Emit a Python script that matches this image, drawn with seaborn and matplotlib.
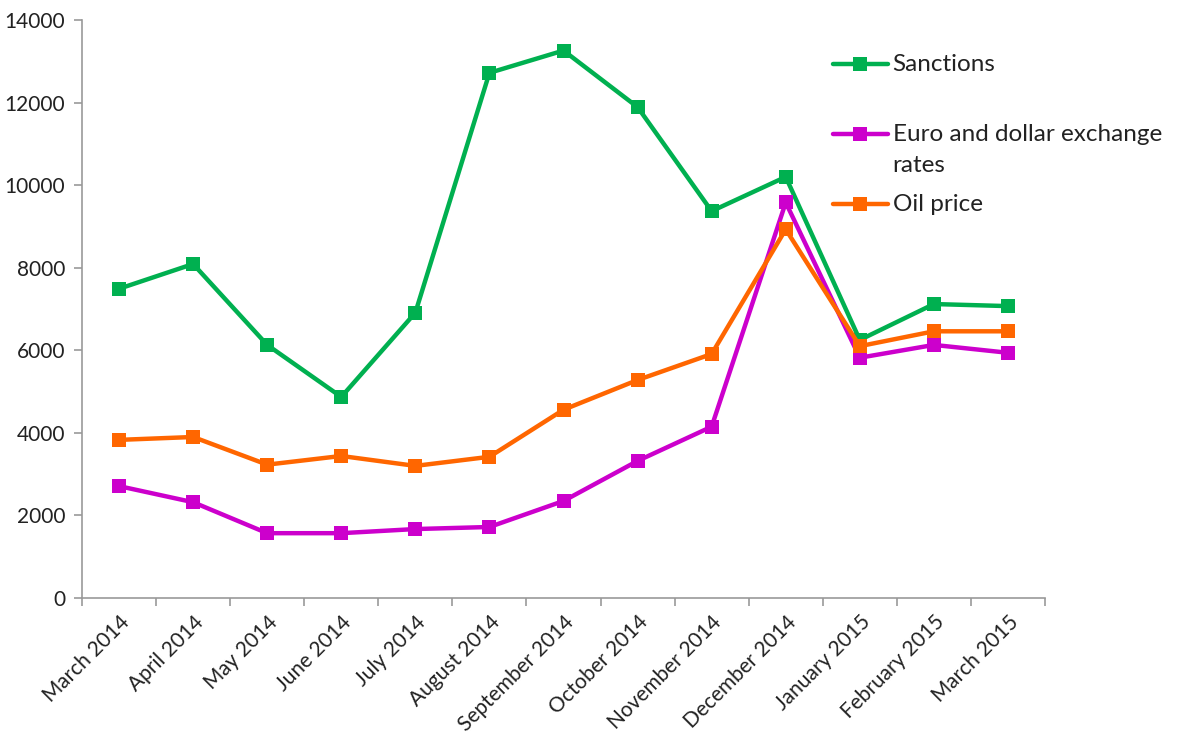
import matplotlib
matplotlib.use("Agg")
import matplotlib.pyplot as plt
import seaborn as sns
import pandas as pd
import numpy as np

months = ["March 2014", "April 2014", "May 2014", "June 2014", "July 2014",
          "August 2014", "September 2014", "October 2014", "November 2014",
          "December 2014", "January 2015", "February 2015", "March 2015"]
sanctions = [7490, 8090, 6130, 4870, 6910, 12720, 13260, 11890, 9370, 10200, 6250, 7120, 7070]
exchange = [2710, 2320, 1570, 1570, 1670, 1720, 2350, 3320, 4150, 9580, 5820, 6130, 5940]
oil = [3830, 3900, 3230, 3440, 3200, 3420, 4560, 5280, 5910, 8930, 6100, 6460, 6460]
series_names = ["Sanctions", "Euro and dollar exchange rates", "Oil price"]
legend_labels = ["Sanctions\n", "Euro and dollar exchange\nrates", "Oil price"]
colors = ["#00B050", "#CC00CC", "#FF6600"]
y_ticks = [0, 2000, 4000, 6000, 8000, 10000, 12000, 14000]

df = pd.DataFrame({"month": months * 3,
                   "x": list(range(len(months))) * 3,
                   "value": sanctions + exchange + oil,
                   "series": [series_names[0]] * 13 + [series_names[1]] * 13 + [series_names[2]] * 13})

sns.set_theme(style="white")
plt.rcParams["font.family"] = ["Lato", "DejaVu Sans"]

fig = plt.figure(figsize=(11.77, 7.35), dpi=100)
ax = fig.add_axes([82 / 1177, 1 - 598 / 735, (1045 - 82) / 1177, (598 - 20) / 735])

sns.lineplot(data=df, x="x", y="value", hue="series", hue_order=series_names,
             palette=colors, marker="s", markersize=10, markeredgewidth=0,
             linewidth=3.2, ax=ax, legend=True)

ax.set_xlim(-0.5, len(months) - 0.5)
ax.set_ylim(0, 14000)
ax.set_yticks(y_ticks)
ax.set_yticklabels([str(v) for v in y_ticks], fontsize=15, color="#222222")
ax.set_xticks(range(len(months)))
ax.set_xticklabels(months, rotation=45, ha="right", rotation_mode="anchor",
                   fontsize=15, color="#222222")
ax.set_xticks(np.arange(-0.5, len(months), 1.0), minor=True)
ax.tick_params(axis="x", which="major", length=0, pad=10)
ax.tick_params(axis="x", which="minor", length=6, width=1.2, color="#999999", direction="out")
ax.tick_params(axis="y", which="major", length=6, width=1.2, color="#999999", direction="out", pad=6)
ax.tick_params(axis="y", left=True)
ax.tick_params(axis="x", bottom=True, which="minor")
ax.set_xlabel("")
ax.set_ylabel("")
for s in ["top", "right"]:
    ax.spines[s].set_visible(False)
for s in ["left", "bottom"]:
    ax.spines[s].set_color("#999999")
    ax.spines[s].set_linewidth(1.2)

handles, labels = ax.get_legend_handles_labels()
leg = ax.legend(handles, legend_labels, loc="upper left", bbox_to_anchor=(0.78, 0.941),
                frameon=False, fontsize=17.5, handlelength=2.25, handletextpad=0.2,
                handleheight=1.0, labelspacing=0.75, borderpad=0, borderaxespad=0)
for t in leg.get_texts():
    t.set_color("#222222")
    t.set_linespacing(1.58)
for col in leg._legend_handle_box.get_children():
    for item in col.get_children():
        item.align = "top"

fig.savefig("out.png", dpi=100)
